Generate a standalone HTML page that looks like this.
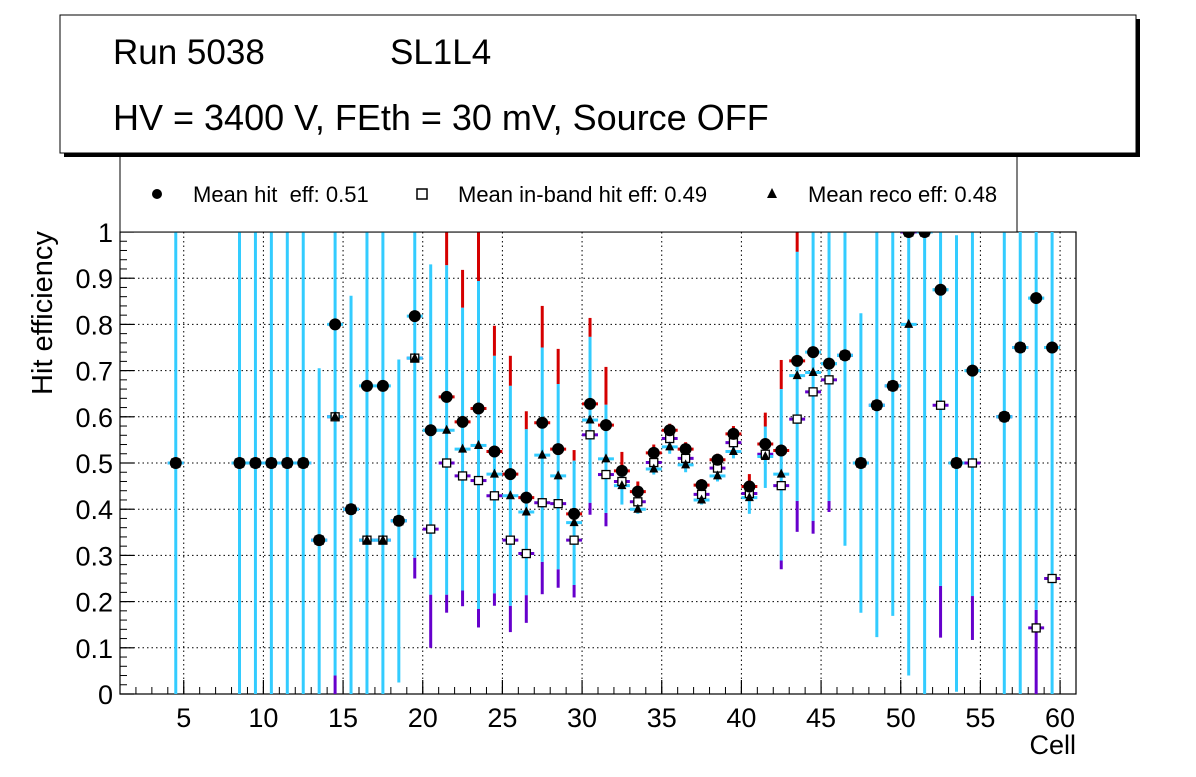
<!DOCTYPE html>
<html><head><meta charset="utf-8"><style>
body{margin:0;background:#fff;}
svg text{font-family:"Liberation Sans",Arial,sans-serif;}
</style></head><body>
<svg id="c" width="1196" height="772" xmlns="http://www.w3.org/2000/svg">
<rect x="0" y="0" width="1196" height="772" fill="#fff"/>
<g id="grid"></g>
<g id="axes"></g>
<g id="marks"></g>
<g>
<rect x="120" y="140" width="897" height="92" fill="#fff" stroke="#000" stroke-width="1"/>
<circle cx="157" cy="194" r="5" fill="#000"/>
<text x="193" y="202" font-size="22">Mean hit&#160; eff: 0.51</text>
<rect x="417" y="189" width="10" height="10" fill="#fff" stroke="#000" stroke-width="1.5"/>
<text x="458" y="202" font-size="22">Mean in-band hit eff: 0.49</text>
<polygon points="772,188 777,198 767,198" fill="#000"/>
<text x="808" y="202" font-size="22">Mean reco eff: 0.48</text>
</g>
<g>
<rect x="64" y="19" width="1076" height="138" fill="#000"/>
<rect x="60" y="15" width="1076" height="138" fill="#fff" stroke="#000" stroke-width="1"/>
<text x="113" y="64" font-size="35">Run 5038</text>
<text x="390" y="64" font-size="35">SL1L4</text>
<text x="113" y="130" font-size="36">HV = 3400 V, FEth = 30 mV, Source OFF</text>
</g>
<text x="52" y="313" font-size="29" text-anchor="middle" transform="rotate(-90 52 313)">Hit efficiency</text>
<text x="1076" y="754" font-size="27" text-anchor="end">Cell</text>
</svg>
<script>
const cells=[4.5,8.5,9.5,10.5,11.5,12.5,13.5,14.5,15.5,16.5,17.5,18.5,19.5,20.5,21.5,22.5,23.5,24.5,25.5,26.5,27.5,28.5,29.5,30.5,31.5,32.5,33.5,34.5,35.5,36.5,37.5,38.5,39.5,40.5,41.5,42.5,43.5,44.5,45.5,46.5,47.5,48.5,49.5,50.5,51.5,52.5,53.5,54.5,56.5,57.5,58.5,59.5];
const hitEff=[.5,.5,.5,.5,.5,.5,.333,.8,.4,.667,.667,.375,.818,.571,.643,.589,.618,.525,.476,.425,.587,.53,.39,.628,.582,.483,.438,.522,.571,.53,.452,.507,.563,.449,.541,.527,.721,.74,.715,.733,.5,.625,.667,1,1,.875,.5,.7,.6,.75,.857,.75];
const inbandEff=[.5,.5,.5,.5,.5,.5,.333,.6,.4,.333,.333,.375,.727,.357,.5,.472,.462,.429,.333,.304,.414,.412,.333,.561,.475,.46,.416,.501,.553,.51,.432,.489,.544,.434,.519,.451,.595,.654,.68,.733,.5,.625,.667,1,1,.625,.5,.5,.6,.75,.143,.25];
const recoEff=[.5,.5,.5,.5,.5,.5,.333,.6,.4,.333,.333,.375,.727,.571,.571,.53,.538,.476,.429,.394,.517,.472,.371,.593,.509,.451,.4,.487,.535,.496,.42,.472,.525,.425,.514,.476,.689,.696,.715,.733,.5,.625,.667,.8,1,.875,.5,.7,.6,.75,.857,.75];
const hitErrTop=[1,1,1,1,1,1,.705,1,.862,1,1,.724,1,.93,1,.918,1,.797,.732,.612,.84,.747,.528,.814,.708,.524,.46,.54,.585,.545,.465,.52,.58,.476,.609,.723,1,1,1,1,.824,1,1,1,1,1,.993,1,1,1,1,1];
const inbandErrTop=[1,1,1,1,1,1,.705,1,.862,1,1,.724,1,.93,.928,.836,.894,.732,.667,.573,.75,.671,.505,.773,.626,.49,.44,.52,.575,.535,.45,.51,.565,.46,.579,.66,.957,1,1,1,.824,1,1,1,1,1,.993,1,1,1,1,1];
const inbandErrBot=[0,0,0,0,0,0,0,.04,0,0,0,.025,.295,.215,.215,.224,.184,.218,.191,.214,.286,.27,.236,.414,.392,.41,.39,.475,.52,.48,.41,.46,.51,.39,.446,.289,.418,.375,.418,.321,.176,.123,.169,.04,0,.234,.005,.212,0,0,.182,0];
const recoErrBot=[0,0,0,0,0,0,0,0,0,0,0,.025,.25,.1,.176,.19,.144,.191,.134,.154,.216,.23,.209,.388,.363,.41,.39,.475,.52,.48,.41,.46,.51,.39,.446,.27,.351,.347,.394,.321,.176,.123,.169,.04,0,.122,.005,.117,0,0,0,0];
const xTicks=[5,10,15,20,25,30,35,40,45,50,55,60];
const yTicks=[0,0.1,0.2,0.3,0.4,0.5,0.6,0.7,0.8,0.9,1];
const yTickLabels=["0","0.1","0.2","0.3","0.4","0.5","0.6","0.7","0.8","0.9","1"];

const NS="http://www.w3.org/2000/svg";
const L=120,R=1076,T=232,B=694,XMIN=1,XMAX=61;
const X=v=>L+(v-XMIN)/(XMAX-XMIN)*(R-L);
const Y=v=>B-v*(B-T);
function mk(parent,tag,attrs){const e=document.createElementNS(NS,tag);for(const k in attrs)e.setAttribute(k,attrs[k]);document.getElementById(parent).appendChild(e);return e;}
function line(p,x1,y1,x2,y2,col,w,dash){return mk(p,'line',{x1,y1,x2,y2,stroke:col,'stroke-width':w||1,'stroke-dasharray':dash||'none'});}

xTicks.forEach(t=>{const g=line('grid',X(t),T,X(t),B,'#000',1,'1.5,3');

});
yTicks.forEach(t=>{const g=line('grid',L,Y(t),R,Y(t),'#000',1,'1.5,3');

});

mk('axes','rect',{x:L,y:T,width:R-L,height:B-T,fill:'none',stroke:'#000','stroke-width':1.2});
xTicks.forEach(t=>{line('axes',X(t),B,X(t),B-14,'#000',1.2);
const tx=mk('axes','text',{x:X(t),y:B+33,'font-size':27,'text-anchor':'middle'});tx.textContent=t;

});
for(let v=1;v<=61;v++){line('axes',X(v),B,X(v),B-7,'#000',1);}
yTicks.forEach((t,i)=>{line('axes',L,Y(t),L+14,Y(t),'#000',1.2);
const tx=mk('axes','text',{x:113,y:Y(t)+10,'font-size':27,'text-anchor':'end'});tx.textContent=yTickLabels[i];

});
for(let v=0;v<=1.0001;v+=0.02){line('axes',L,Y(v),L+7,Y(v),'#000',1);}

const RED='#d40000',CY='#33ccff',PU='#6600cc';
const hw=(X(1)-X(0))*0.5;
cells.forEach((c,i)=>{
 const x=X(c);
 const a=line('marks',x,Y(inbandErrTop[i]),x,Y(hitErrTop[i]),RED,3);
 
 
 const b=line('marks',x,Y(recoErrBot[i]),x,Y(inbandErrBot[i]),PU,3);
 
 
 const d=line('marks',x,Y(inbandErrBot[i]),x,Y(inbandErrTop[i]),CY,3);
 
 
 const hasRed=hitErrTop[i]>inbandErrTop[i]+0.001;
 line('marks',x-hw,Y(hitEff[i]),x+hw,Y(hitEff[i]),hasRed?RED:CY,3);
 line('marks',x-hw,Y(inbandEff[i]),x+hw,Y(inbandEff[i]),PU,3);
 line('marks',x-hw,Y(recoEff[i]),x+hw,Y(recoEff[i]),CY,3);
});
cells.forEach((c,i)=>{
 const x=X(c);
 const sq=mk('marks','rect',{x:x-4,y:Y(inbandEff[i])-4,width:8,height:8,fill:'#fff',stroke:'#000','stroke-width':1.3});
 
 
 const ci=mk('marks','circle',{cx:x,cy:Y(hitEff[i]),r:6,fill:'#000'});
 
 
 const ty=Y(recoEff[i]);
 const tr=mk('marks','polygon',{points:`${x},${ty-5.5} ${x+4.5},${ty+3.5} ${x-4.5},${ty+3.5}`,fill:'#000'});
 
 
});
</script>
</body></html>
